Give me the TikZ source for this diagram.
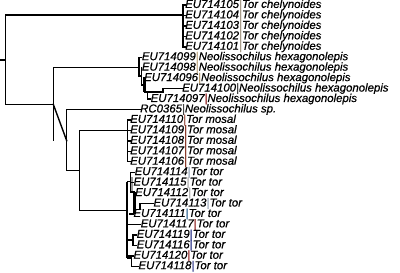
\documentclass[tikz,border=0pt]{standalone}
\usepackage{fontspec}
\setmainfont{Liberation Sans}
\newfontfamily\labfont{Liberation Sans}[RawFeature={embolden=0.7}]
\definecolor{cch}{HTML}{A89C8A}
\definecolor{cneo}{HTML}{B89C70}
\definecolor{cdark}{HTML}{444444}
\definecolor{cred}{HTML}{8B1A1A}
\definecolor{cmos}{HTML}{8B3A2A}
\definecolor{cgray}{HTML}{9A9A9A}
\definecolor{cgb}{HTML}{8A9AAE}
\definecolor{cblue}{HTML}{1F5A8A}
\definecolor{cnavy}{HTML}{1A237E}
\newcommand\tiplab[3]{#1\textcolor{#2}{\upshape|}#3}
\begin{document}
\begin{tikzpicture}[x=1pt,y=-1pt,
  br/.style={line width=1.4pt,line cap=rect},
  thk/.style={line width=2.2pt},
  lab/.style={anchor=west,inner sep=0pt,font=\labfont\fontsize{11.4}{11.4}\selectfont\itshape}]
\useasboundingbox (0,0) rectangle (400,273);
% ---- labels ----
\node[lab] (t105) at (185,5)      {\tiplab{EU714105}{cch}{Tor chelynoides}};
\node[lab] (t104) at (185,15.45)  {\tiplab{EU714104}{cch}{Tor chelynoides}};
\node[lab] (t103) at (185,25.9)   {\tiplab{EU714103}{cch}{Tor chelynoides}};
\node[lab] (t102) at (185,36.35)  {\tiplab{EU714102}{cch}{Tor chelynoides}};
\node[lab] (t101) at (185,46.8)   {\tiplab{EU714101}{cch}{Tor chelynoides}};
\node[lab] (t099) at (141.7,57.25) {\tiplab{EU714099}{cneo}{Neolissochilus hexagonolepis}};
\node[lab] (t098) at (141.7,67.7)  {\tiplab{EU714098}{cneo}{Neolissochilus hexagonolepis}};
\node[lab] (t096) at (144,78.15)   {\tiplab{EU714096}{cneo}{Neolissochilus hexagonolepis}};
\node[lab] (t100) at (182,88.6)    {\tiplab{EU714100}{cdark}{Neolissochilus hexagonolepis}};
\node[lab] (t097) at (150.5,99.05) {\tiplab{EU714097}{cred}{Neolissochilus hexagonolepis}};
\node[lab] (tRC)  at (140,109.5)   {\tiplab{RC0365}{cdark}{Neolissochilus sp.}};
\node[lab] (t110) at (130,119.95)  {\tiplab{EU714110}{cmos}{Tor mosal}};
\node[lab] (t109) at (130,130.4)   {\tiplab{EU714109}{cmos}{Tor mosal}};
\node[lab] (t108) at (130,140.85)  {\tiplab{EU714108}{cmos}{Tor mosal}};
\node[lab] (t107) at (130,151.3)   {\tiplab{EU714107}{cmos}{Tor mosal}};
\node[lab] (t106) at (130,161.75)  {\tiplab{EU714106}{cmos}{Tor mosal}};
\node[lab] (t114) at (134.5,172.2) {\tiplab{EU714114}{cgb}{Tor tor}};
\node[lab] (t115) at (133.3,182.65){\tiplab{EU714115}{cgray}{Tor tor}};
\node[lab] (t112) at (135,193.1)   {\tiplab{EU714112}{cgray}{Tor tor}};
\node[lab] (t113) at (153.3,203.55){\tiplab{EU714113}{cgb}{Tor tor}};
\node[lab] (t111) at (133.3,214)   {\tiplab{EU714111}{cblue}{Tor tor}};
\node[lab] (t117) at (140.5,224.45){\tiplab{EU714117}{cred}{Tor tor}};
\node[lab] (t119) at (136.5,234.9) {\tiplab{EU714119}{cnavy}{Tor tor}};
\node[lab] (t116) at (136.5,245.35){\tiplab{EU714116}{cnavy}{Tor tor}};
\node[lab] (t120) at (133.3,255.8) {\tiplab{EU714120}{cred}{Tor tor}};
\node[lab] (t118) at (138.3,266.25){\tiplab{EU714118}{cnavy}{Tor tor}};
% ---- internal nodes ----
\coordinate (root) at (5.7,60);
\coordinate (nA) at (53.3,104.3);
\coordinate (nB) at (66.7,140.7);
\coordinate (nC) at (79.3,170.7);
% ---- backbone ----
\draw[br] (0,60) -- (root);
\draw[br] (5.7,15) -- (5.7,104.3);
\draw[br] (5.7,15) -- (183,15);
\draw[br] (183,5) -- (183,46.8);
\foreach \t in {t105,t104,t103,t102,t101} \draw[br] (183,0 |- \t.west) -- (\t.west);
\draw[br] (5.7,104.3) -- (nA);
\draw[br] (53.3,67.7) -- (53.3,140.7);
\draw[br] (53.3,67.7) -- (139,67.7);
% Neolissochilus cluster
\draw[br] (139,57.25) -- (139,76);
\draw[br] (139,0 |- t099.west) -- (t099.west);
\draw[br] (139,76) -- (141.3,76);
\draw[br] (141.3,67.7) -- (141.3,85);
\draw[br] (141.3,85) -- (144.5,85);
\draw[thk] (144.5,76.5) -- (144.5,92);
\draw[br] (144.5,92) -- (163,92) -- (163,0 |- t100.west) -- (t100.west);
\draw[br] (147.5,92) -- (147.5,0 |- t097.west) -- (t097.west);
% RC0365 and Tor mosal / Tor tor
\draw[br] (nA) -- (nB);
\draw[br] (66.7,109.5) -- (66.7,170.7);
\draw[br] (66.7,0 |- tRC.west) -- (tRC.west);
\draw[br] (nB |- nC) -- (nC);
\draw[br] (79.3,130.4) -- (79.3,210.7);
\draw[br] (79.3,130.4) -- (127.7,130.4);
\draw[br] (127.7,119.95) -- (127.7,161.75);
\foreach \t in {t110,t109,t108,t107,t106} \draw[br] (127.7,0 |- \t.west) -- (\t.west);
\draw[br] (79.3,210.7) -- (127.3,210.7);
% Tor tor cluster
\draw[thk] (127.3,181.5) -- (127.3,258);
\draw[br] (127.3,181.5) -- (130.7,181.5);
\draw[br] (130.7,172.2) -- (130.7,192);
\draw[br] (130.7,0 |- t114.west) -- (t114.west);
\draw[br,cgray,line width=2pt] (131.5,178) -- (131.5,190);
\draw[br] (130.7,0 |- t115.west) -- (t115.west);
\draw[br] (130.7,192) -- (134.5,192);
\draw[thk] (134.5,192) -- (134.5,214);
\draw[br] (134.5,0 |- t112.west) -- (t112.west);
\draw[br] (134.5,209.5) -- (140,209.5) -- (140,0 |- t113.west) -- (t113.west);
\draw[br] (129.3,0 |- t111.west) -- (t111.west);
\draw[br] (127.3,0 |- t117.west) -- (t117.west);
\draw[br] (127.3,240) -- (133,240);
\draw[br] (133,234.9) -- (133,245.35);
\draw[br] (133,0 |- t119.west) -- (t119.west);
\draw[br] (133,0 |- t116.west) -- (t116.west);
\draw[br] (127.3,0 |- t120.west) -- (t120.west);
\draw[br] (127.3,258) -- (131.5,258) -- (131.5,0 |- t118.west) -- (t118.west);
\end{tikzpicture}
\end{document}
